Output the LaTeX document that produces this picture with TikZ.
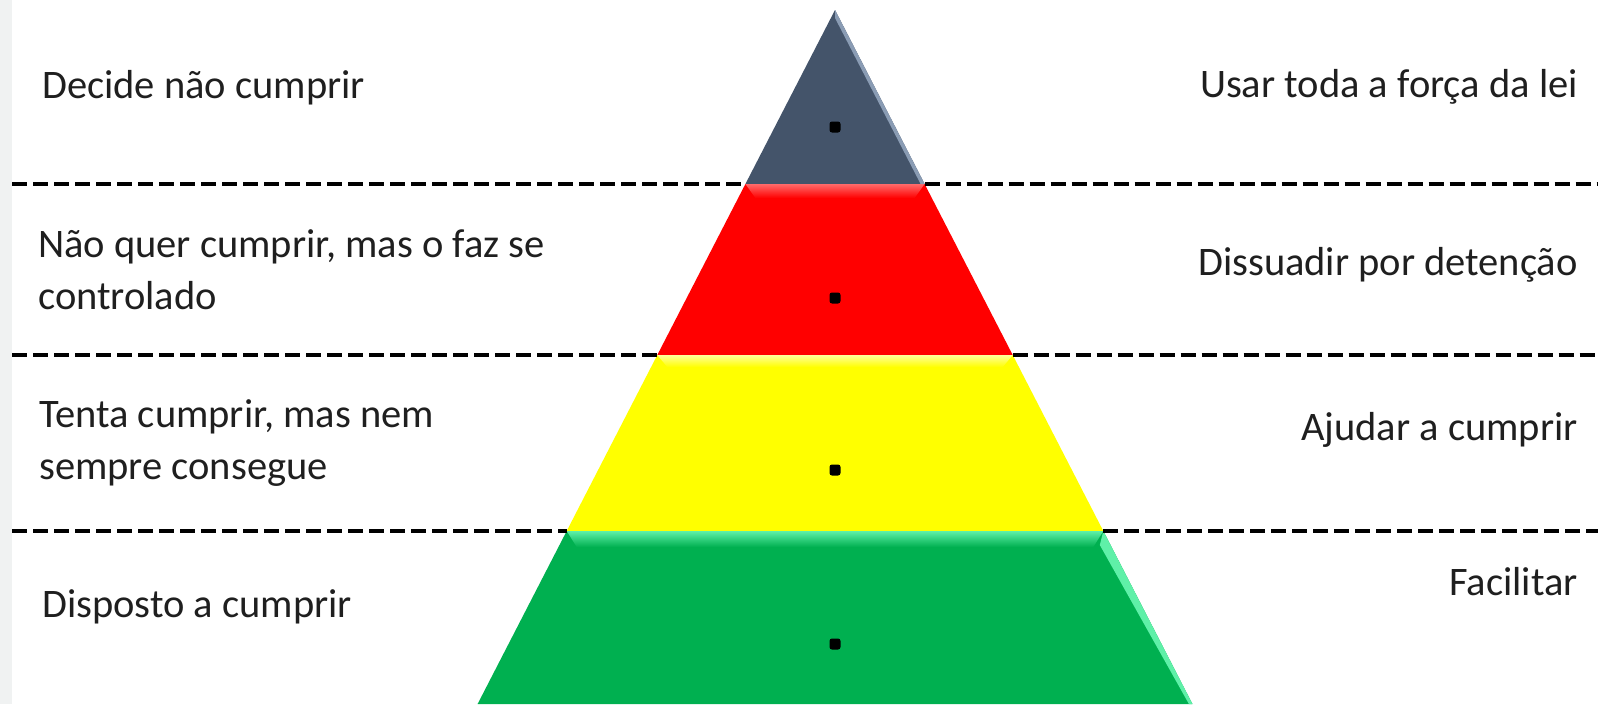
\documentclass[tikz,border=0pt]{standalone}
\usepackage{fontspec}
\setmainfont{Carlito}
\definecolor{slate}{HTML}{44546A}
\definecolor{slatelt}{HTML}{8A9CB4}
\definecolor{pred}{HTML}{FF0000}
\definecolor{predlt}{HTML}{FF6A6A}
\definecolor{pyel}{HTML}{FFFF00}
\definecolor{pyellt}{HTML}{FFFF9A}
\definecolor{pgreen}{HTML}{00B050}
\definecolor{pgreenlt}{HTML}{5FF0A8}
\definecolor{strip}{HTML}{F0F2F2}
\tikzset{
  lbl/.style={inner sep=0pt, font=\fontsize{40.5}{52}\selectfont, text=black!88},
  lleft/.style={lbl, anchor=base west},
  lright/.style={lbl, anchor=base east},
  dashline/.style={draw=black, line width=4pt, dash pattern=on 15pt off 6pt},
  pdot/.style={fill=black, rounded corners=2.5pt, minimum size=11pt, inner sep=0pt, draw=none, rectangle},
}
\begin{document}
\begin{tikzpicture}[x=1pt,y=-1pt]
\useasboundingbox (0,0) rectangle (1598,704);
\fill[white] (0,0) rectangle (1598,704);
\fill[strip] (0,0) rectangle (12,704);
% pyramid corner points
\coordinate (A) at (835,10);
\coordinate (L1) at (745.4,184); \coordinate (R1) at (924.6,184);
\coordinate (L2) at (657.3,355); \coordinate (R2) at (1012.7,355);
\coordinate (L3) at (566.7,531); \coordinate (R3) at (1103.3,531);
\coordinate (L4) at (477.6,704); \coordinate (R4) at (1192.4,704);
% bands
\fill[slate] (A) -- (R1) -- (L1) -- cycle;
\fill[pred] (L1) -- (R1) -- (R2) -- (L2) -- cycle;
\fill[pyel] (L2) -- (R2) -- (R3) -- (L3) -- cycle;
\fill[pgreen] (L3) -- (R3) -- (R4) -- (L4) -- cycle;
% bevel highlights: top strips
\shade[top color=predlt, bottom color=pred] (L1) -- (R1) -- ([xshift=-10pt,yshift=-14pt]R1) -- ([xshift=10pt,yshift=-14pt]L1) -- cycle;
\shade[top color=pyellt, bottom color=pyel] (L2) -- (R2) -- ([xshift=-10pt,yshift=-12pt]R2) -- ([xshift=10pt,yshift=-12pt]L2) -- cycle;
\shade[top color=pgreenlt, bottom color=pgreen] (L3) -- (R3) -- ([xshift=-10pt,yshift=-16pt]R3) -- ([xshift=10pt,yshift=-16pt]L3) -- cycle;
% bevel highlights: right edges
\fill[slatelt] (A) -- (R1) -- ([xshift=-4pt]R1) -- ([yshift=-8pt]A) -- cycle;
\fill[pgreenlt] (R3) -- (R4) -- ([xshift=-3.5pt]R4) -- ([xshift=-3.5pt,yshift=-14pt]R3) -- cycle;
% dashed separators
\coordinate (d1l) at (12,184); \coordinate (d1r) at (1598,184);
\coordinate (d2l) at (12,355); \coordinate (d2r) at (1598,355);
\coordinate (d3l) at (12,531); \coordinate (d3r) at (1598,531);
\draw[dashline] (d1l) -- (L1);
\draw[dashline] (R1) -- (d1r);
\draw[dashline] (d2l) -- (L2);
\draw[dashline] (R2) -- (d2r);
\draw[dashline] (d3l) -- (L3);
\draw[dashline] (R3) -- (d3r);
% dots
\node[pdot] (p1) at (835,127) {};
\node[pdot] (p2) at (835,298) {};
\node[pdot] (p3) at (835,470) {};
\node[pdot] (p4) at (835,644) {};
% left labels
\node[lleft] (a1) at (42,98) {Decide não cumprir};
\node[lleft] (a2) at (38,257) {\begin{tabular}[t]{@{}l@{}}Não quer cumprir, mas o faz se\\controlado\end{tabular}};
\node[lleft] (a3) at (39,427) {\begin{tabular}[t]{@{}l@{}}Tenta cumprir, mas nem\\sempre consegue\end{tabular}};
\node[lleft] (a4) at (42,617) {Disposto a cumprir};
% right labels
\node[lright] (b1) at (1578,97) {Usar toda a força da lei};
\node[lright] (b2) at (1578,275) {Dissuadir por detenção};
\node[lright] (b3) at (1578,440) {Ajudar a cumprir};
\node[lright] (b4) at (1578,595) {Facilitar};
\end{tikzpicture}
\end{document}
